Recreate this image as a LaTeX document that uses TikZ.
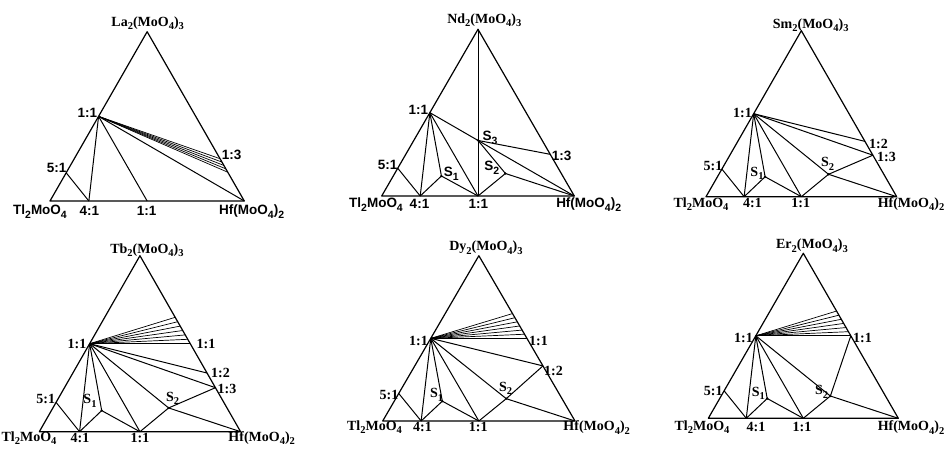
\documentclass[tikz,border=0pt]{standalone}
\usepackage{fontspec}
\setmainfont{Liberation Serif}
\setsansfont{Liberation Sans}
\newcommand{\sbs}[1]{\raisebox{-0.55ex}{\fontsize{10.5}{10.5}\selectfont #1}}

\begin{document}
\begin{tikzpicture}[x=1pt, y=1pt,
    side/.style={line width=1.2pt, line join=round},
    tie/.style={line width=1pt},
    fan/.style={line width=0.7pt},
    sflbl/.style={font=\sffamily\bfseries\fontsize{13.5}{14}\selectfont, inner sep=0pt},
    rmlbl/.style={font=\bfseries\fontsize{14}{15}\selectfont, inner sep=0pt}]
    \useasboundingbox (0,0) rectangle (945,-450);

    % Triangles with their common points
    \foreach \p/\x/\y/\w/\t in {la/50/-201/194.3/-31.7, nd/381.7/-196/192.6/-29.3,
        sm/706/-196.7/190.7/-30.7, tb/39.3/-431.7/201.3/-255.7,
        dy/382.7/-421/192.3/-255.7, er/708.3/-418.3/190/-253.3} {
        \coordinate (\p A) at (\x,\y);
        \coordinate (\p H) at (\x+\w,\y);
        \coordinate (\p T) at (\x+\w/2,\t);
        \coordinate (\p L) at (barycentric cs:\p A=1,\p T=1);
        \coordinate (\p P) at (barycentric cs:\p A=5,\p T=1);
        \coordinate (\p B) at (barycentric cs:\p A=4,\p H=1);
        \coordinate (\p M) at (barycentric cs:\p A=1,\p H=1);
        \coordinate (\p S) at (barycentric cs:\p A=0.63,\p H=0.25,\p T=0.12);
        \coordinate (\p Q) at (barycentric cs:\p A=0.29,\p H=0.575,\p T=0.135);
        \coordinate (\p R) at (barycentric cs:\p T=1,\p H=1);
        \coordinate (\p U) at (barycentric cs:\p T=1,\p H=2);
        \coordinate (\p V) at (barycentric cs:\p T=1,\p H=3);
        \draw[side] (\p A) -- (\p H) -- (\p T) -- cycle;
        \draw[tie] (\p P) -- (\p B);
        \draw[tie] (\p L) -- (\p B);
        \draw[tie] (\p L) -- (\p M);
    }

    % La
    \foreach \f/\g [count=\i] in {0.25/0.75, 0.23/0.77, 0.21/0.79, 0.19/0.81, 0.17/0.83} {
        \coordinate (laF\i) at (barycentric cs:laT=\f,laH=\g);
        \draw[fan] (laL) -- (laF\i);
    }
    \draw[tie] (laL) -- (laH);
    \node[rmlbl] (laTop) at (147.7,-23) {La\sbs{2}(MoO\sbs{4})\sbs{3}};
    \node[sflbl] (laTl) at (40,-212) {Tl\sbs{2}MoO\sbs{4}};
    \node[sflbl] (la41) at (89.3,-211) {4:1};
    \node[sflbl] (la11b) at (146.7,-211) {1:1};
    \node[sflbl] (laHf) at (251.7,-212) {Hf(MoO\sbs{4})\sbs{2}};
    \node[sflbl] (la11) at (87.3,-112.7) {1:1};
    \node[sflbl] (la51) at (56.7,-168.3) {5:1};
    \node[sflbl] (la13) at (231.7,-155) {1:3};

    % Nd
    \coordinate (ndC) at (barycentric cs:ndA=1,ndH=1,ndT=1);
    \draw[tie] (ndT) -- (ndM);
    \draw[tie] (ndL) -- (ndS) -- (ndB);
    \draw[tie] (ndS) -- (ndM);
    \draw[tie] (ndL) -- (ndC) -- (ndV);
    \draw[tie] (ndC) -- (ndH);
    \draw[tie] (ndC) -- (ndQ);
    \draw[tie] (ndM) -- (ndQ) -- (ndH);
    \fill (ndS) circle (1.3pt) (ndQ) circle (1.3pt) (ndC) circle (1.3pt);
    \node[rmlbl] (ndTop) at (484.3,-20) {Nd\sbs{2}(MoO\sbs{4})\sbs{3}};
    \node[sflbl] (ndTl) at (376,-205) {Tl\sbs{2}MoO\sbs{4}};
    \node[sflbl] (nd41) at (419.5,-204) {4:1};
    \node[sflbl] (nd11b) at (478.3,-204) {1:1};
    \node[sflbl] (ndHf) at (588.7,-205) {Hf(MoO\sbs{4})\sbs{2}};
    \node[sflbl] (nd11) at (418.3,-110) {1:1};
    \node[sflbl] (nd51) at (387.7,-165) {5:1};
    \node[sflbl] (ndS3) at (490,-138) {S\sbs{3}};
    \node[sflbl] (ndS1) at (451.3,-174) {S\sbs{1}};
    \node[sflbl] (ndS2) at (491.7,-167.7) {S\sbs{2}};
    \node[sflbl] (nd13) at (561.5,-156) {1:3};

    % Sm
    \draw[tie] (smL) -- (smS) -- (smB);
    \draw[tie] (smS) -- (smM);
    \draw[tie] (smL) -- (smQ) -- (smV);
    \draw[tie] (smM) -- (smQ) -- (smH);
    \draw[tie] (smL) -- (smV);
    \draw[tie] (smL) -- (smU);
    \fill (smS) circle (1.3pt) (smQ) circle (1.3pt);
    \node[rmlbl] (smTop) at (810.7,-25.3) {Sm\sbs{2}(MoO\sbs{4})\sbs{3}};
    \node[rmlbl] (smTl) at (701,-204) {Tl\sbs{2}MoO\sbs{4}};
    \node[rmlbl] (sm41) at (752.5,-202.5) {4:1};
    \node[rmlbl] (sm11b) at (800.7,-202.5) {1:1};
    \node[rmlbl] (smHf) at (911,-204) {Hf(MoO\sbs{4})\sbs{2}};
    \node[rmlbl] (sm11) at (742.5,-113.3) {1:1};
    \node[rmlbl] (sm51) at (713,-165.7) {5:1};
    \node[rmlbl] (smS1) at (757,-173.3) {S\sbs{1}};
    \node[rmlbl] (smS2) at (827.7,-164) {S\sbs{2}};
    \node[rmlbl] (sm12) at (878.5,-144) {1:2};
    \node[rmlbl] (sm13) at (886.5,-157.3) {1:3};

    % Tb
    \foreach \f/\g [count=\i] in {0.525/0.475, 0.55/0.45, 0.575/0.425, 0.6/0.4, 0.625/0.375, 0.65/0.35} {
        \coordinate (tbF\i) at (barycentric cs:tbT=\f,tbH=\g);
        \draw[fan] (tbL) -- (tbF\i);
    }
    \draw[tie] (tbL) -- (tbR);
    \draw[tie] (tbL) -- (tbS) -- (tbB);
    \draw[tie] (tbS) -- (tbM);
    \draw[tie] (tbL) -- (tbQ) -- (tbV);
    \draw[tie] (tbM) -- (tbQ) -- (tbH);
    \draw[tie] (tbL) -- (tbV);
    \draw[tie] (tbL) -- (tbU);
    \fill (tbS) circle (1.3pt) (tbQ) circle (1.3pt);
    \node[rmlbl] (tbTop) at (147,-250) {Tb\sbs{2}(MoO\sbs{4})\sbs{3}};
    \node[rmlbl] (tbTl) at (29,-438) {Tl\sbs{2}MoO\sbs{4}};
    \node[rmlbl] (tb41) at (80,-437.5) {4:1};
    \node[rmlbl] (tb11b) at (140,-437.5) {1:1};
    \node[rmlbl] (tbHf) at (261.7,-438) {Hf(MoO\sbs{4})\sbs{2}};
    \node[rmlbl] (tb11) at (77,-344) {1:1};
    \node[rmlbl] (tb11r) at (206,-344) {1:1};
    \node[rmlbl] (tb51) at (45.7,-399) {5:1};
    \node[rmlbl] (tbS1) at (90,-400.7) {S\sbs{1}};
    \node[rmlbl] (tbS2) at (172.7,-398.3) {S\sbs{2}};
    \node[rmlbl] (tb12) at (220.5,-373.3) {1:2};
    \node[rmlbl] (tb13) at (227,-388.7) {1:3};

    % Dy
    \foreach \f/\g [count=\i] in {0.525/0.475, 0.55/0.45, 0.575/0.425, 0.6/0.4, 0.625/0.375, 0.65/0.35} {
        \coordinate (dyF\i) at (barycentric cs:dyT=\f,dyH=\g);
        \draw[fan] (dyL) -- (dyF\i);
    }
    \draw[tie] (dyL) -- (dyR);
    \draw[tie] (dyL) -- (dyS) -- (dyB);
    \draw[tie] (dyS) -- (dyM);
    \draw[tie] (dyL) -- (dyQ) -- (dyU);
    \draw[tie] (dyM) -- (dyQ) -- (dyH);
    \draw[tie] (dyL) -- (dyU);
    \fill (dyS) circle (1.3pt) (dyQ) circle (1.3pt);
    \node[rmlbl] (dyTop) at (486,-247.7) {Dy\sbs{2}(MoO\sbs{4})\sbs{3}};
    \node[rmlbl] (dyTl) at (374.5,-427.3) {Tl\sbs{2}MoO\sbs{4}};
    \node[rmlbl] (dy41) at (422.5,-427) {4:1};
    \node[rmlbl] (dy11b) at (478.3,-427) {1:1};
    \node[rmlbl] (dyHf) at (596.7,-427.3) {Hf(MoO\sbs{4})\sbs{2}};
    \node[rmlbl] (dy11) at (418.5,-340.7) {1:1};
    \node[rmlbl] (dy11r) at (538.5,-340.7) {1:1};
    \node[rmlbl] (dy51) at (389,-395) {5:1};
    \node[rmlbl] (dyS1) at (436.7,-395) {S\sbs{1}};
    \node[rmlbl] (dyS2) at (505.7,-388.3) {S\sbs{2}};
    \node[rmlbl] (dy12) at (553.5,-370.7) {1:2};

    % Er
    \foreach \f/\g [count=\i] in {0.525/0.475, 0.55/0.45, 0.575/0.425, 0.6/0.4, 0.625/0.375, 0.65/0.35} {
        \coordinate (erF\i) at (barycentric cs:erT=\f,erH=\g);
        \draw[fan] (erL) -- (erF\i);
    }
    \draw[tie] (erL) -- (erR);
    \draw[tie] (erL) -- (erS) -- (erB);
    \draw[tie] (erS) -- (erM);
    \draw[tie] (erL) -- (erQ) -- (erR);
    \draw[tie] (erM) -- (erQ) -- (erH);
    \fill (erS) circle (1.3pt) (erQ) circle (1.3pt);
    \node[rmlbl] (erTop) at (812,-245.7) {Er\sbs{2}(MoO\sbs{4})\sbs{3}};
    \node[rmlbl] (erTl) at (702,-427.3) {Tl\sbs{2}MoO\sbs{4}};
    \node[rmlbl] (er41) at (756,-427) {4:1};
    \node[rmlbl] (er11b) at (802,-427) {1:1};
    \node[rmlbl] (erHf) at (911,-427.3) {Hf(MoO\sbs{4})\sbs{2}};
    \node[rmlbl] (er11) at (743.5,-337.7) {1:1};
    \node[rmlbl] (er11r) at (862.5,-337.7) {1:1};
    \node[rmlbl] (er51) at (713.3,-390.7) {5:1};
    \node[rmlbl] (erS1) at (758.3,-393.3) {S\sbs{1}};
    \node[rmlbl] (erS2) at (821.7,-391.7) {S\sbs{2}};
\end{tikzpicture}
\end{document}
